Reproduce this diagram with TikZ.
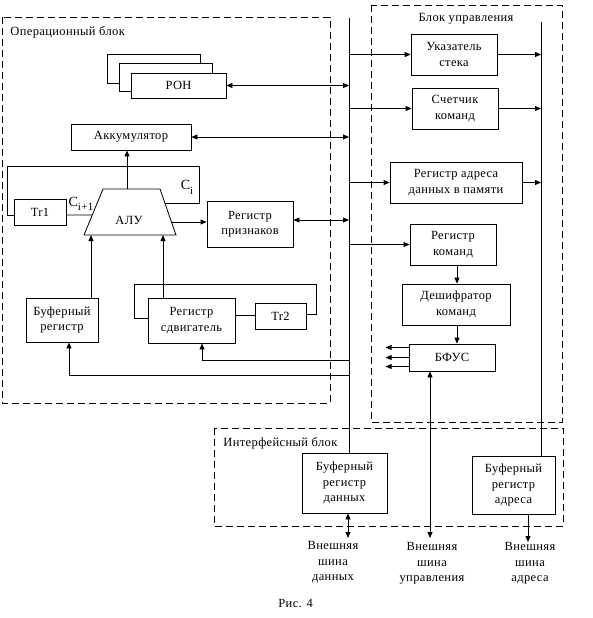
\documentclass[tikz,border=0pt]{standalone}
\usepackage{fontspec}
\setmainfont{Liberation Serif}[LetterSpace=3]
\usetikzlibrary{arrows.meta,calc}
\begin{document}
\begin{tikzpicture}[x=1pt,y=-1pt,
  every node/.style={font=\fontsize{12.5}{15.5}\selectfont},
  box/.style={draw,fill=white,inner sep=0pt,align=center},
  blk/.style={draw,dash pattern=on 7pt off 4pt},
  lbl/.style={align=center,inner sep=0pt,anchor=north},
  >={Triangle[length=6pt,width=5pt]},
  line width=0.8pt]
\useasboundingbox (0,0) rectangle (592,618);
% blocks
\draw[blk] (2,17) rectangle (330,403);
\draw[blk] (371,5) rectangle (562,422);
\draw[blk] (214,428) rectangle (563,526);
\node[anchor=base west,inner sep=0pt] (lop) at (10,35.5) {Операционный блок};
\node[anchor=base,inner sep=0pt] (lupr) at (466,21.5) {Блок управления};
\node[anchor=base west,inner sep=0pt] (lint) at (223,446) {Интерфейсный блок};
% operational block
\node[box,minimum width=93,minimum height=29] (ron3) at (153.5,68.5) {};
\node[box,minimum width=93,minimum height=28] (ron2) at (165.5,77) {};
\node[box,minimum width=95,minimum height=25] (ron) at (178.5,85.5) {РОН};
\node[box,minimum width=120,minimum height=26] (akk) at (131,137) {Аккумулятор};
\node[box,minimum width=52,minimum height=26] (tr1) at (40,212) {Tr1};
\node[box,minimum width=86,minimum height=46] (prizn) at (250,224) {Регистр\\признаков};
\node[box,minimum width=72,minimum height=44] (bufreg) at (62,320) {Буферный\\регистр};
\node[box,minimum width=87,minimum height=45] (sdv) at (191.5,320.5) {Регистр\\сдвигатель};
\node[box,minimum width=51,minimum height=26] (tr2) at (280.5,316) {Tr2};
% ALU
\coordinate (alutl) at (103,189);
\coordinate (alutr) at (160,189);
\coordinate (alubr) at (176,235);
\coordinate (alubl) at (84,235);
\draw (alutl) -- (alutr) -- (alubr) -- (alubl) -- cycle;
\node (alu) at (129,220) {АЛУ};
\coordinate (aluT) at (127,189);
\coordinate (aluB1) at (91,235);
\coordinate (aluB2) at (163,235);
\coordinate (aluCi) at ($(alutr)!0.304!(alubr)$);
\coordinate (aluCl) at ($(alutl)!0.565!(alubl)$);
\coordinate (aluP) at ($(alutr)!0.717!(alubr)$);
\node[inner sep=0pt,font=\fontsize{14}{14}\selectfont] (ci) at (187,187) {C\raisebox{-5pt}{\fontsize{11}{11}\selectfont i}};
\node[inner sep=0pt,font=\fontsize{14}{14}\selectfont] (ci1) at (81,204) {C\raisebox{-4pt}{\fontsize{11}{11}\selectfont i+1}};
% control block
\node[box,minimum width=86,minimum height=41] (ukaz) at (454,54.5) {Указатель\\стека};
\node[box,minimum width=86,minimum height=41] (sch) at (455,108.5) {Счетчик\\команд};
\node[box,minimum width=132,minimum height=41] (radr) at (456,182.5) {Регистр адреса\\данных в памяти};
\node[box,minimum width=86,minimum height=41] (rkom) at (453,244.5) {Регистр\\команд};
\node[box,minimum width=108,minimum height=41] (desh) at (456,304.5) {Дешифратор\\команд};
\node[box,minimum width=86,minimum height=27] (bfus) at (452,357.5) {БФУС};
% interface block
\node[box,minimum width=85,minimum height=60] (brd) at (344.5,483) {Буферный\\регистр\\данных};
\node[box,minimum width=83,minimum height=58] (bra) at (513.5,485) {Буферный\\регистр\\адреса};
% buses
\coordinate (busT) at (349,18);
\coordinate (rbusT) at (541,22);
\draw (busT) -- (busT |- brd.north);
\draw (rbusT) -- (rbusT |- bra.north);
% connectors, operational block
\draw[<->] (ron.east) -- (ron.east -| busT);
\draw[<->] (akk.east) -- (akk.east -| busT);
\draw[<->] ([yshift=4pt]prizn.east) -- ([yshift=4pt]prizn.east -| busT);
\draw[->] (aluP) -- (aluP -| prizn.west);
\draw[->] (aluT) -- (aluT |- akk.south);
\draw[->] (aluB1 |- bufreg.north) -- (aluB1);
\draw[->] (aluB2 |- sdv.north) -- (aluB2);
\coordinate (fbR) at (199,166);
\coordinate (fbL) at (7,166);
\draw (aluCi) -| (fbR) -- (fbL) |- ([yshift=-3pt]tr1.west);
\draw ([yshift=-3pt]tr1.east) -- (aluCl);
\coordinate (lpA) at (134,284);
\coordinate (lpB) at (316,284);
\draw ([yshift=2.5pt]sdv.west) -| (lpA) -- (lpB) |- ([yshift=2pt]tr2.east);
\draw ([yshift=1pt]tr2.west -| sdv.east) -- ([yshift=1pt]tr2.west);
\coordinate (j1) at (349,360);
\coordinate (j2) at (349,375);
\draw[->] (j1) -| ([xshift=10.5pt]sdv.south);
\draw[->] (j2) -| ([xshift=7pt]bufreg.south);
% connectors, control block
\draw[->] (ukaz.west -| busT) -- (ukaz.west);
\draw[->] (sch.west -| busT) -- (sch.west);
\draw[->] (radr.west -| busT) -- (radr.west);
\draw[->] (rkom.west -| busT) -- (rkom.west);
\draw[->] (ukaz.east) -- (ukaz.east -| rbusT);
\draw[->] (sch.east) -- (sch.east -| rbusT);
\draw[->] (radr.east) -- (radr.east -| rbusT);
\draw[->] ([xshift=4pt]rkom.south) -- ([xshift=4pt]rkom.south |- desh.north);
\draw[->] ([xshift=1pt]desh.south) -- ([xshift=1pt]desh.south |- bfus.north);
\draw[->] ([yshift=10pt]bfus.west) -- ++(-23,0);
\draw[->] (bfus.west) -- ++(-23,0);
\draw[->] ([yshift=-9pt]bfus.west) -- ++(-23,0);
% external buses
\coordinate (cbus) at (430,538);
\coordinate (dbus) at (348,538);
\coordinate (abus) at (528,542);
\draw[<->] (bfus.south -| cbus) -- (cbus);
\draw[<->] (brd.south -| dbus) -- (dbus);
\draw[->] (bra.south -| abus) -- (abus);
\node[lbl] (ld) at (333,541) {Внешняя\\шина\\данных};
\node[lbl] (lc) at (432,542) {Внешняя\\шина\\управления};
\node[lbl] (la) at (530,542) {Внешняя\\шина\\адреса};
\node[anchor=base west,inner sep=0pt] (fig) at (278,607) {Рис. 4};
\end{tikzpicture}
\end{document}
